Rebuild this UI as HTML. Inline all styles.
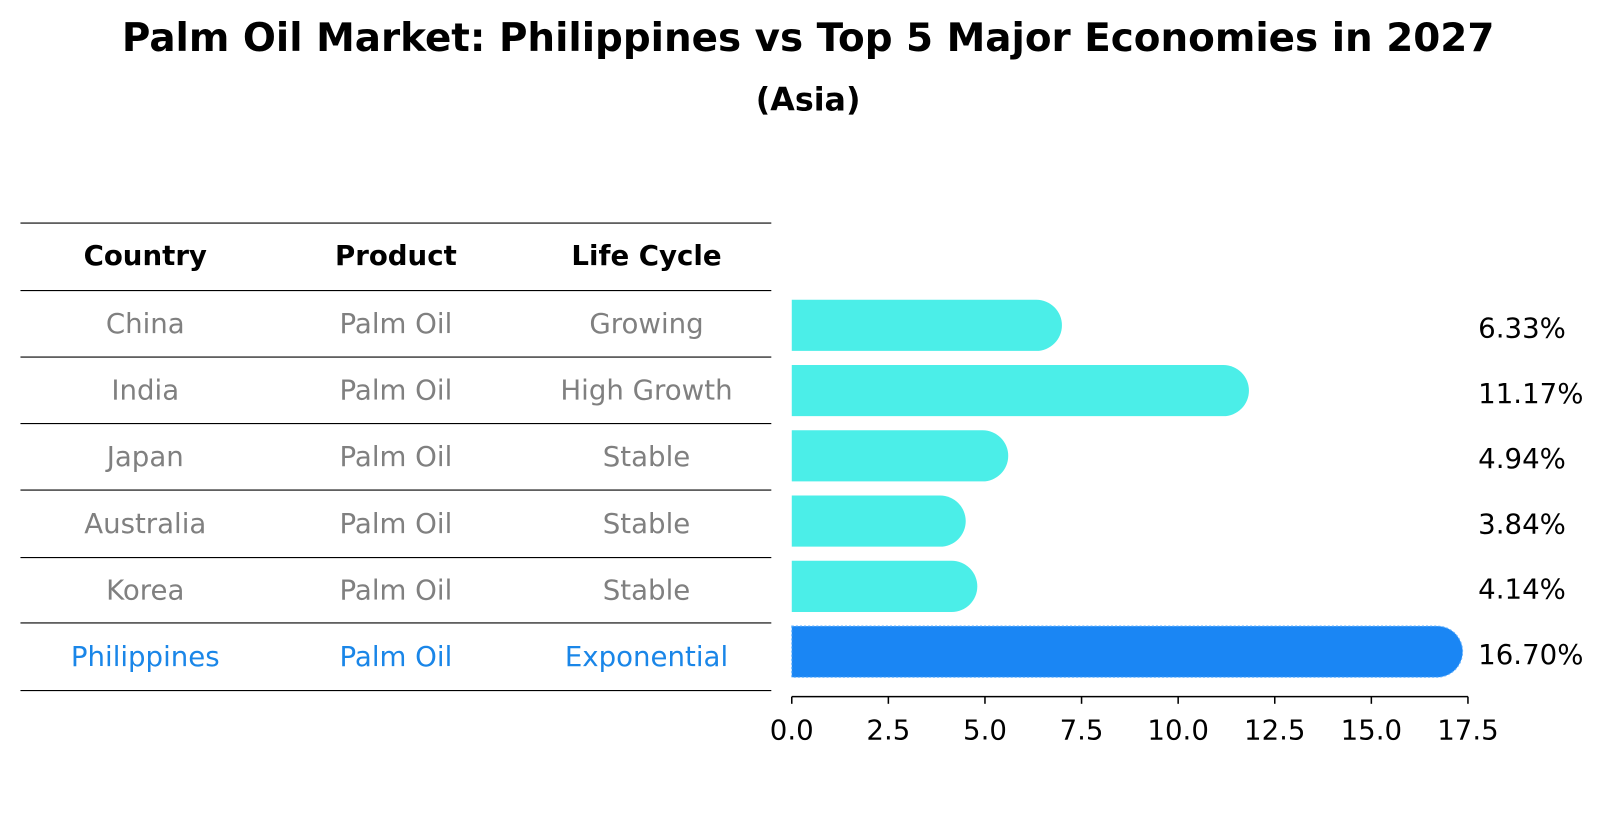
<!DOCTYPE html>
<html><head><meta charset="utf-8"><style>
body{margin:0;background:#fff;font-family:"Liberation Sans","DejaVu Sans",sans-serif}
svg text{font-family:"DejaVu Sans","Liberation Sans",sans-serif}
</style></head><body>
<svg id="c" width="1604" height="823" viewBox="0 0 1568 804.5">
<text x="790" y="50" text-anchor="middle" font-size="38" font-weight="bold">Palm Oil Market: Philippines vs Top 5 Major Economies in 2027</text>
<text x="790" y="108" text-anchor="middle" font-size="31" font-weight="bold">(Asia)</text>
<g id="tbl"></g>
<g id="bars"></g>
</svg>
<script>
const countries=["China","India","Japan","Australia","Korea","Philippines"];
const products=["Palm Oil","Palm Oil","Palm Oil","Palm Oil","Palm Oil","Palm Oil"];
const stages=["Growing","High Growth","Stable","Stable","Stable","Exponential"];
const values=[6.33,11.17,4.94,3.84,4.14,16.70];
const ticks=[0,2.5,5,7.5,10,12.5,15,17.5];
const NS="http://www.w3.org/2000/svg";
function mk(t,a,p){const e=document.createElementNS(NS,t);for(const k in a)e.setAttribute(k,a[k]);p.appendChild(e);return e;}
const tbl=document.getElementById('tbl'),bars=document.getElementById('bars');
const lineYs=[218,284,349,414,479,545,609,675];
lineYs.forEach((y,i)=>{const l=mk('line',{x1:20,x2:754,y1:y,y2:y,stroke:'#000','stroke-width':1.1},tbl);

});
const colX=[142,387,632];
["Country","Product","Life Cycle"].forEach((h,i)=>{const t=mk('text',{x:colX[i],y:259,'text-anchor':'middle','font-size':27,'font-weight':'bold'},tbl);t.textContent=h;

});
const X=v=>774+v*(1435-774)/17.5;
const rowY=i=>318+i*63.8;
countries.forEach((c,i)=>{
 const col=i===5?'#1a86e8':'#808080';
 [c,products[i],stages[i]].forEach((s,j)=>{const t=mk('text',{x:colX[j],y:(lineYs[i+1]+lineYs[i+2])/2+9,'text-anchor':'middle','font-size':27,fill:col},tbl);t.textContent=s;
 
 });
 const cy=rowY(i),h=50,x1=X(values[i]);
 const fill=i===5?'#1a86f4':'#4beee8';
 const attrs={d:`M${X(0)},${cy-h/2} L${x1},${cy-h/2} A${h/2},${h/2} 0 0 1 ${x1},${cy+h/2} L${X(0)},${cy+h/2} Z`,fill:fill};
 if(i===5){attrs.stroke='#5fb0ff';attrs['stroke-width']=1;attrs['stroke-dasharray']='2,2';}
 const p=mk('path',attrs,bars);
 
 
 const t=mk('text',{x:1445,y:cy+12,'font-size':27},bars);t.textContent=values[i].toFixed(2)+'%';
 
 
});
const ax=mk('line',{x1:X(0),x2:X(17.5),y1:681,y2:681,stroke:'#000','stroke-width':1.5},bars);


ticks.forEach(v=>{const l=mk('line',{x1:X(v),x2:X(v),y1:681,y2:688,stroke:'#000','stroke-width':1.5},bars);


const t=mk('text',{x:X(v),y:723,'text-anchor':'middle','font-size':27},bars);t.textContent=v.toFixed(1);

});
</script>
</body></html>
